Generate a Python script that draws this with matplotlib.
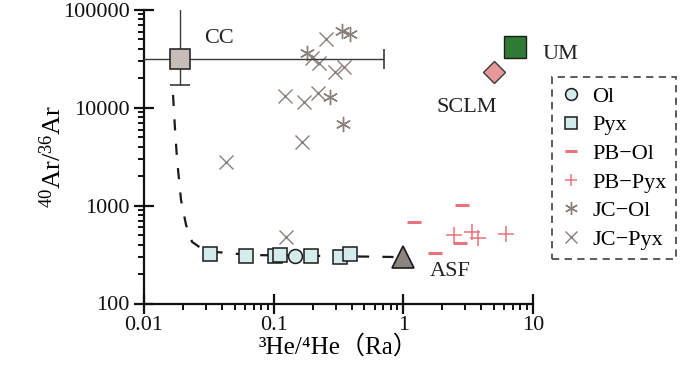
import numpy as np
import matplotlib
matplotlib.use("Agg")
import matplotlib.pyplot as plt
from matplotlib.ticker import FixedLocator, LogLocator, NullFormatter

plt.rcParams['font.family'] = ['Liberation Serif', 'DejaVu Serif', 'Noto Sans CJK SC']
plt.rcParams['mathtext.fontset'] = 'custom'
plt.rcParams['mathtext.rm'] = 'Liberation Serif'

# data (3He/4He in Ra, 40Ar/36Ar)
ol_x = [0.145]
ol_y = [306]
pyx_x = [0.032, 0.061, 0.103, 0.112, 0.193, 0.327, 0.39]
pyx_y = [320, 306, 306, 312, 306, 300, 318]

pb_ol_x = [2.84, 1.20, 1.745, 2.75]
pb_ol_y = [1016, 686, 330, 413]
pb_pyx_x = [2.44, 3.40, 3.79, 6.24]
pb_pyx_y = [502, 539, 467, 514]

jc_ol_x = [0.336, 0.385, 0.181, 0.273, 0.342]
jc_ol_y = [61500, 56600, 36400, 13000, 6840]
jc_pyx_x = [0.253, 0.198, 0.2245, 0.299, 0.346, 0.123, 0.172, 0.218, 0.165, 0.043, 0.125]
jc_pyx_y = [50600, 32400, 28800, 23400, 26400, 13300, 11600, 14300, 4510, 2780, 482]

cc = (0.019, 31600)
cc_xerr = (0.008, 0.713)   # low / high ends
cc_yerr = (17100, 105000)
um = (7.3, 42000)
sclm = (5.0, 23000)
asf = (1.0, 298)

mix_x = [0.01675, 0.01736, 0.0180, 0.0193, 0.0211, 0.0235, 0.0296, 0.066, 1.0]
mix_y = [13550, 5940, 2930, 1143, 635, 426, 344, 313, 298]

fig = plt.figure(figsize=(7, 3.67), dpi=100)
ax = fig.add_axes([144/700, 1 - 303.5/367, (533 - 144)/700, (303.5 - 10)/367])
ax.set_xscale('log')
ax.set_yscale('log')
ax.set_xlim(0.01, 10)
ax.set_ylim(100, 100000)

grey = '#8a807c'
red = '#e8737a'
blue = '#d5ecec'

# mixing curve
ax.plot(mix_x, mix_y, color='#1a1a1a', lw=1.6, ls=(0, (5, 6)), zorder=2)

# CC with error bars
ax.errorbar([cc[0]], [cc[1]],
            xerr=[[cc[0] - cc_xerr[0]], [cc_xerr[1] - cc[0]]],
            yerr=[[cc[1] - cc_yerr[0]], [cc_yerr[1] - cc[1]]],
            fmt='s', ms=15, mfc='#c6bcb8', mec='#2a2a2a', mew=1.2,
            ecolor='#3a3a3a', elinewidth=1.0, capsize=7, capthick=1.0, zorder=4)

ax.plot([um[0]], [um[1]], 's', ms=15.5, mfc='#2e7b35', mec='#1a1a1a', mew=1.0, zorder=4)
ax.plot([sclm[0]], [sclm[1]], 'D', ms=11, mfc='#e89898', mec='#3a3a3a', mew=1.0, zorder=4)
ax.plot([asf[0]], [asf[1]], '^', ms=16, mfc='#8c8480', mec='#1a1a1a', mew=1.2, zorder=4)

# samples
ax.plot(jc_pyx_x, jc_pyx_y, 'x', ms=9.5, mec=grey, mew=1.0, ls='none', label='JC\u2212Pyx', zorder=3)
ax.plot(jc_ol_x, jc_ol_y, marker=(6, 2, 0), ms=11, mec=grey, mew=1.0, ls='none', label='JC\u2212Ol', zorder=3)
ax.plot(pb_ol_x, pb_ol_y, '_', ms=10, mec=red, mew=2.2, ls='none', label='PB\u2212Ol', zorder=3)
ax.plot(pb_pyx_x, pb_pyx_y, '+', ms=11, mec=red, mew=1.1, ls='none', label='PB\u2212Pyx', zorder=3)
ax.plot(pyx_x, pyx_y, 's', ms=10.5, mfc=blue, mec='#1a1a1a', mew=1.1, ls='none', label='Pyx', zorder=3)
ax.plot(ol_x, ol_y, 'o', ms=10, mfc=blue, mec='#1a1a1a', mew=1.1, ls='none', label='Ol', zorder=3)

# labels on end-members
ax.text(0.0379, 50600, 'CC', fontsize=16, ha='center', va='center', color='#222222')
ax.text(11.8, 34700, 'UM', fontsize=16, ha='left', va='center', color='#222222')
ax.text(3.07, 9970, 'SCLM', fontsize=16, ha='center', va='center', color='#222222')
ax.text(2.31, 210, 'ASF', fontsize=16, ha='center', va='center', color='#222222')

# axes styling
for s in ['top', 'right']:
    ax.spines[s].set_visible(False)
for s in ['left', 'bottom']:
    ax.spines[s].set_linewidth(1.6)
    ax.spines[s].set_color('#111111')

ax.xaxis.set_major_locator(FixedLocator([0.01, 0.1, 1, 10]))
ax.set_xticklabels(['0.01', '0.1', '1', '10'])
ax.yaxis.set_major_locator(FixedLocator([100, 1000, 10000, 100000]))
ax.set_yticklabels(['100', '1000', '10000', '100000'])
ax.xaxis.set_minor_locator(LogLocator(base=10, subs=np.arange(2, 10)))
ax.yaxis.set_minor_locator(LogLocator(base=10, subs=np.arange(2, 10)))
ax.xaxis.set_minor_formatter(NullFormatter())
ax.yaxis.set_minor_formatter(NullFormatter())
ax.tick_params(which='major', direction='inout', length=14, width=1.6, labelsize=16, colors='#111111')
ax.tick_params(which='minor', direction='out', length=4.5, width=1.4, colors='#111111')
ax.tick_params(axis='x', which='major', pad=2)

ax.set_xlabel('\u00b3He/\u2074He\uff08Ra\uff09', fontsize=18, labelpad=0)
ax.set_ylabel(r'$\mathregular{^{40}Ar/^{36}Ar}$', fontsize=19, labelpad=-2)

handles, labels = ax.get_legend_handles_labels()
order = [5, 4, 2, 3, 1, 0]
leg = ax.legend([handles[i] for i in order], [labels[i] for i in order],
                loc='upper left', bbox_to_anchor=(552/700, 1 - 77/367),
                bbox_transform=fig.transFigure, borderaxespad=0,
                fontsize=16, frameon=True, fancybox=False, handlelength=0.9,
                handletextpad=0.5, labelspacing=0.36, borderpad=0.42,
                markerscale=0.85)
frame = leg.get_frame()
frame.set_edgecolor('#222222')
frame.set_linewidth(1.3)
frame.set_linestyle((0, (4, 3)))

fig.savefig('out.png', dpi=100)
